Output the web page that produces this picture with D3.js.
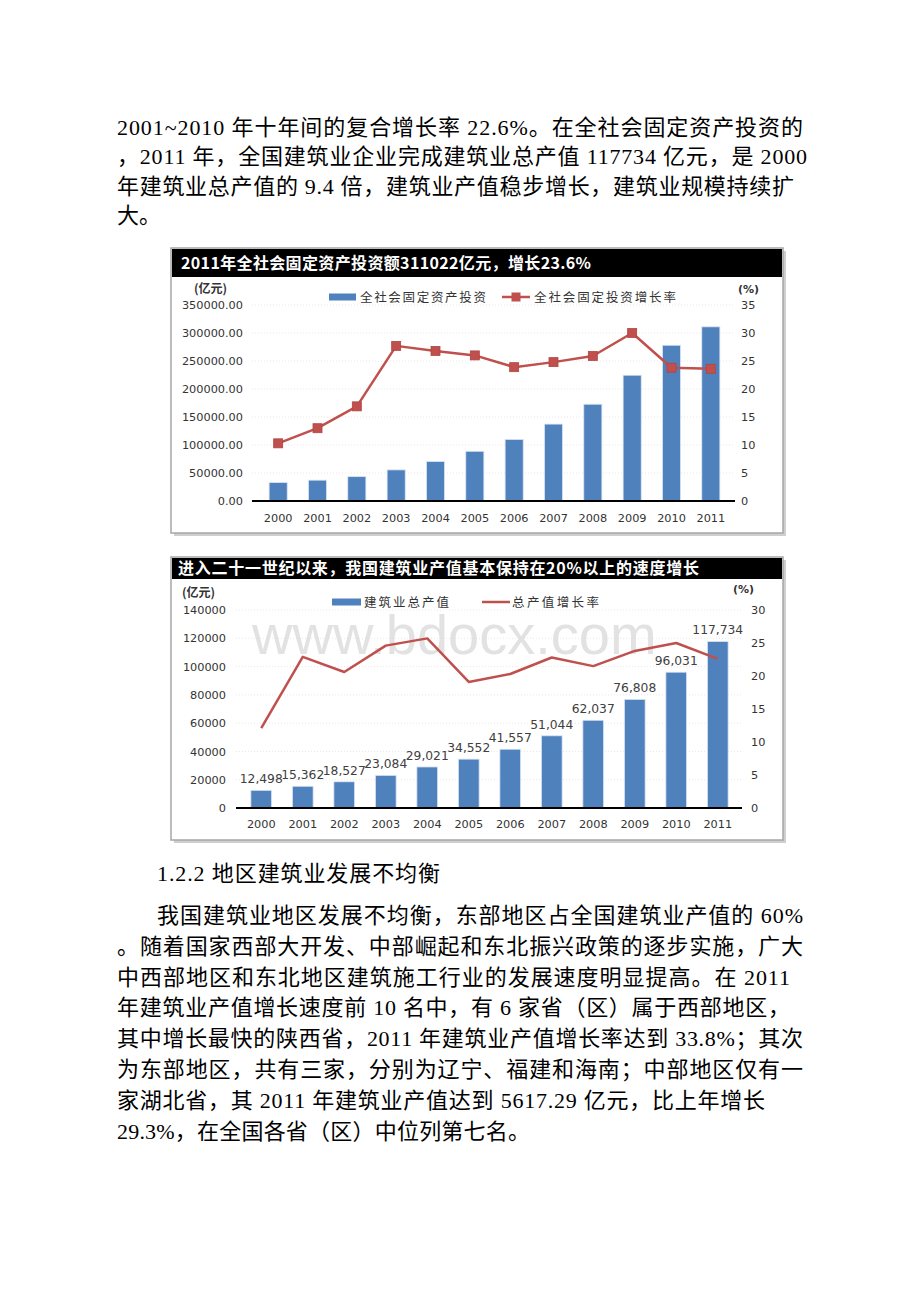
<!DOCTYPE html>
<html><head><meta charset="utf-8">
<script src="https://cdn.jsdelivr.net/npm/d3@7/dist/d3.min.js"></script>
<style>
html,body{margin:0;padding:0;background:#fff;}
svg{display:block;}
</style></head>
<body>
<script>
// ---- data ----
const years = ["2000","2001","2002","2003","2004","2005","2006","2007","2008","2009","2010","2011"];
const investment = [32918, 37214, 43500, 55567, 70477, 88774, 109998, 137324, 172828, 224599, 278140, 311022];
const investGrowth = [10.3, 13.0, 16.9, 27.7, 26.8, 26.0, 23.9, 24.8, 25.9, 30.0, 23.8, 23.6];
const output = [12498, 15362, 18527, 23084, 29021, 34552, 41557, 51044, 62037, 76808, 96031, 117734];
const outputGrowth = [12.1, 22.9, 20.6, 24.6, 25.7, 19.1, 20.3, 22.8, 21.5, 23.8, 25.0, 22.6];
const leftTicks1 = [0, 50000, 100000, 150000, 200000, 250000, 300000, 350000];
const rightTicks1 = [0, 5, 10, 15, 20, 25, 30, 35];
const leftTicks2 = [0, 20000, 40000, 60000, 80000, 100000, 120000, 140000];
const rightTicks2 = [0, 5, 10, 15, 20, 25, 30];

const topPara = [
  "2001~2010 年十年间的复合增长率 22.6%。在全社会固定资产投资的",
  "，2011 年，全国建筑业企业完成建筑业总产值 117734 亿元，是 2000",
  "年建筑业总产值的 9.4 倍，建筑业产值稳步增长，建筑业规模持续扩",
  "大。"
];
const topWidths = [686, 690, 677, null];
const heading = "1.2.2 地区建筑业发展不均衡";
const bottomPara = [
  "我国建筑业地区发展不均衡，东部地区占全国建筑业产值的 60%",
  "。随着国家西部大开发、中部崛起和东北振兴政策的逐步实施，广大",
  "中西部地区和东北地区建筑施工行业的发展速度明显提高。在 2011",
  "年建筑业产值增长速度前 10 名中，有 6 家省（区）属于西部地区，",
  "其中增长最快的陕西省，2011 年建筑业产值增长率达到 33.8%；其次",
  "为东部地区，共有三家，分别为辽宁、福建和海南；中部地区仅有一",
  "家湖北省，其 2011 年建筑业产值达到 5617.29 亿元，比上年增长",
  "29.3%，在全国各省（区）中位列第七名。"
];
const bottomWidths = [646, 686, 673, 673, 686, 686, 648, 413];

const W = 920, H = 1302;
const svg = d3.select("body").append("svg").attr("width", W).attr("height", H);
svg.append("rect").attr("width", W).attr("height", H).attr("fill", "#fff");

const bodyFont = "'Liberation Serif','Times New Roman','Noto Sans CJK SC',serif";
const chartFont = "'DejaVu Sans','Noto Sans CJK SC',sans-serif";
const cjkFont = "'Noto Sans CJK SC','DejaVu Sans',sans-serif";

// paragraphs
const tp = svg.append("g").attr("font-family", bodyFont).attr("font-size", 22).attr("fill", "#000");
topPara.forEach((t, i) => {
  const el = tp.append("text").attr("x", 117).attr("y", 135 + i * 29.4).text(t);
  if (topWidths[i]) el.attr("textLength", topWidths[i]).attr("lengthAdjust", "spacing");
});
svg.append("text").attr("x", 157).attr("y", 881).attr("font-family", bodyFont).attr("font-size", 22)
  .attr("textLength", 283).attr("lengthAdjust", "spacing").text(heading);
const bp = svg.append("g").attr("font-family", bodyFont).attr("font-size", 22).attr("fill", "#000");
bottomPara.forEach((t, i) => {
  bp.append("text").attr("x", i === 0 ? 157 : 117).attr("y", 923 + i * 30.8)
    .attr("textLength", bottomWidths[i]).attr("lengthAdjust", "spacing").text(t);
});

function drawChart(cfg) {
  const g = svg.append("g");
  // box with shadow
  g.append("rect").attr("x", cfg.box[0] + 3).attr("y", cfg.box[1] + 3).attr("width", cfg.box[2] - cfg.box[0]).attr("height", cfg.box[3] - cfg.box[1]).attr("fill", "#cfcfcf");
  g.append("rect").attr("x", cfg.box[0]).attr("y", cfg.box[1]).attr("width", cfg.box[2] - cfg.box[0]).attr("height", cfg.box[3] - cfg.box[1]).attr("fill", "#fff").attr("stroke", "#a6a6a6").attr("stroke-width", 1.5);
  // header
  g.append("rect").attr("x", cfg.box[0] + 1).attr("y", cfg.header[0]).attr("width", cfg.box[2] - cfg.box[0] - 2).attr("height", cfg.header[1] - cfg.header[0]).attr("fill", "#000");
  g.append("text").attr("x", cfg.titleX).attr("y", (cfg.header[0] + cfg.header[1]) / 2 + cfg.titleSize * 0.36)
    .attr("font-family", cjkFont).attr("font-weight", "bold").attr("font-size", cfg.titleSize).attr("fill", "#fff")
    .attr("textLength", cfg.titleW).attr("lengthAdjust", "spacing").text(cfg.title);

  const x = d3.scaleBand().domain(years).range(cfg.xr).paddingInner(cfg.pad).paddingOuter(cfg.pad / 2);
  const yL = d3.scaleLinear().domain([0, cfg.leftTicks[cfg.leftTicks.length - 1]]).range([cfg.y0, cfg.y1]);
  const yR = d3.scaleLinear().domain([0, cfg.rightTicks[cfg.rightTicks.length - 1]]).range([cfg.y0, cfg.y1]);

  // gridlines
  g.append("g").selectAll("line").data(cfg.leftTicks.slice(1)).join("line")
    .attr("x1", cfg.axisX[0]).attr("x2", cfg.axisX[1]).attr("y1", d => yL(d)).attr("y2", d => yL(d))
    .attr("stroke", "#e8e8e8").attr("stroke-dasharray", "1,2");

  // left axis
  const la = g.append("g").attr("transform", `translate(${cfg.leftLabelX},0)`)
    .call(d3.axisLeft(yL).tickValues(cfg.leftTicks).tickFormat(cfg.leftFmt).tickSize(0).tickPadding(0));
  la.select(".domain").remove();
  la.selectAll("text").attr("font-family", chartFont).attr("font-size", 11.3).attr("fill", "#333");
  // right axis
  const ra = g.append("g").attr("transform", `translate(${cfg.rightLabelX},0)`)
    .call(d3.axisRight(yR).tickValues(cfg.rightTicks).tickFormat(d3.format("d")).tickSize(0).tickPadding(0));
  ra.select(".domain").remove();
  ra.selectAll("text").attr("font-family", chartFont).attr("font-size", 11.3).attr("fill", "#333");

  // unit labels
  g.append("text").attr("x", cfg.unitL[0]).attr("y", cfg.unitL[1]).attr("font-family", cjkFont).attr("font-weight", "bold").attr("font-size", 12).attr("fill", "#333").text("(亿元)");
  g.append("text").attr("x", cfg.unitR[0]).attr("y", cfg.unitR[1]).attr("font-family", chartFont).attr("font-weight", "bold").attr("font-size", 11).attr("fill", "#333").text("(%)");

  // bars
  g.append("g").selectAll("rect").data(cfg.bars).join("rect")
    .attr("x", (d, i) => x(years[i])).attr("width", x.bandwidth())
    .attr("y", d => yL(d)).attr("height", d => cfg.y0 - yL(d))
    .attr("fill", "#4f81bd").attr("stroke", "#dbe5f1").attr("stroke-width", 0.8);

  // x axis
  const xa = g.append("g").attr("transform", `translate(0,${cfg.y0})`)
    .call(d3.axisBottom(x).tickSize(0).tickPadding(cfg.xPad));
  xa.select(".domain").remove();
  xa.selectAll("text").attr("font-family", chartFont).attr("font-size", 11.3).attr("fill", "#333");
  g.append("line").attr("x1", cfg.axisX[0]).attr("x2", cfg.axisX[1]).attr("y1", cfg.y0).attr("y2", cfg.y0).attr("stroke", "#000").attr("stroke-width", 2);

  // data labels
  if (cfg.barLabels) {
    g.append("g").selectAll("text").data(cfg.bars).join("text")
      .attr("x", (d, i) => x(years[i]) + x.bandwidth() / 2).attr("y", d => yL(d) - 7)
      .attr("text-anchor", "middle").attr("font-family", chartFont).attr("font-size", 12.3).attr("fill", "#404040")
      .text(d => d3.format(",")(d));
  }

  // watermark
  if (cfg.watermark) {
    g.append("text").attr("x", cfg.watermark[0]).attr("y", cfg.watermark[1]).attr("font-family", "'Liberation Sans',Arial,sans-serif")
      .attr("font-size", 56).attr("fill", "#d9d9d9").attr("opacity", 0.75).text("www.bdocx.com");
  }

  // line
  const line = d3.line().x((d, i) => x(years[i]) + x.bandwidth() / 2).y(d => yR(d));
  g.append("path").datum(cfg.rates).attr("d", line).attr("fill", "none").attr("stroke", "#c0504d").attr("stroke-width", 2.5).attr("stroke-linejoin", "round");
  if (cfg.markers) {
    g.append("g").selectAll("rect").data(cfg.rates).join("rect")
      .attr("x", (d, i) => x(years[i]) + x.bandwidth() / 2 - 4.5).attr("y", d => yR(d) - 4.5)
      .attr("width", 9).attr("height", 9).attr("fill", "#c0504d").attr("stroke", "#b04542").attr("stroke-width", 0.8);
  }

  // legend
  const lg = g.append("g").attr("font-family", cjkFont).attr("font-size", 12.5).attr("fill", "#333");
  lg.append("rect").attr("x", cfg.leg.barX).attr("y", cfg.leg.y - 3.5).attr("width", cfg.leg.barW).attr("height", 7).attr("fill", "#4f81bd");
  lg.append("text").attr("x", cfg.leg.barTextX).attr("y", cfg.leg.y + 4.5)
    .attr("textLength", cfg.leg.barTextW).attr("lengthAdjust", "spacing").text(cfg.leg.barText);
  lg.append("line").attr("x1", cfg.leg.lineX).attr("x2", cfg.leg.lineX + cfg.leg.lineW).attr("y1", cfg.leg.y).attr("y2", cfg.leg.y).attr("stroke", "#c0504d").attr("stroke-width", 2.5);
  if (cfg.markers) {
    lg.append("rect").attr("x", cfg.leg.lineX + cfg.leg.lineW / 2 - 4.5).attr("y", cfg.leg.y - 4.5).attr("width", 9).attr("height", 9).attr("fill", "#c0504d");
  }
  lg.append("text").attr("x", cfg.leg.lineTextX).attr("y", cfg.leg.y + 4.5)
    .attr("textLength", cfg.leg.lineTextW).attr("lengthAdjust", "spacing").text(cfg.leg.lineText);
}

drawChart({
  box: [171, 248, 783, 533],
  header: [249, 277],
  title: "2011年全社会固定资产投资额311022亿元，增长23.6%",
  titleX: 181, titleSize: 16, titleW: 410,
  xr: [258.5, 730.5], pad: 0.54,
  y0: 501, y1: 305,
  leftTicks: leftTicks1, rightTicks: rightTicks1, leftFmt: d3.format(".2f"),
  leftLabelX: 243, rightLabelX: 741,
  axisX: [252, 735],
  unitL: [194, 293], unitR: [738, 293],
  bars: investment, rates: investGrowth, markers: true, barLabels: false,
  xPad: 13,
  leg: {y: 297, barX: 329, barW: 27, barTextX: 360, barTextW: 126, barText: "全社会固定资产投资",
        lineX: 502, lineW: 28, lineTextX: 534, lineTextW: 142, lineText: "全社会固定投资增长率"}
});

drawChart({
  box: [171, 557, 783, 840],
  header: [558, 579],
  title: "进入二十一世纪以来，我国建筑业产值基本保持在20%以上的速度增长",
  titleX: 178, titleSize: 16, titleW: 521,
  xr: [240.5, 738.5], pad: 0.5,
  y0: 808, y1: 610,
  leftTicks: leftTicks2, rightTicks: rightTicks2, leftFmt: d3.format("d"),
  leftLabelX: 226, rightLabelX: 751,
  axisX: [236, 742],
  unitL: [182, 597], unitR: [733, 593],
  bars: output, rates: outputGrowth, markers: false, barLabels: true,
  xPad: 12,
  watermark: [252, 654],
  leg: {y: 602, barX: 332, barW: 29, barTextX: 364, barTextW: 85, barText: "建筑业总产值",
        lineX: 482, lineW: 28, lineTextX: 512, lineTextW: 87, lineText: "总产值增长率"}
});
</script>
</body></html>
